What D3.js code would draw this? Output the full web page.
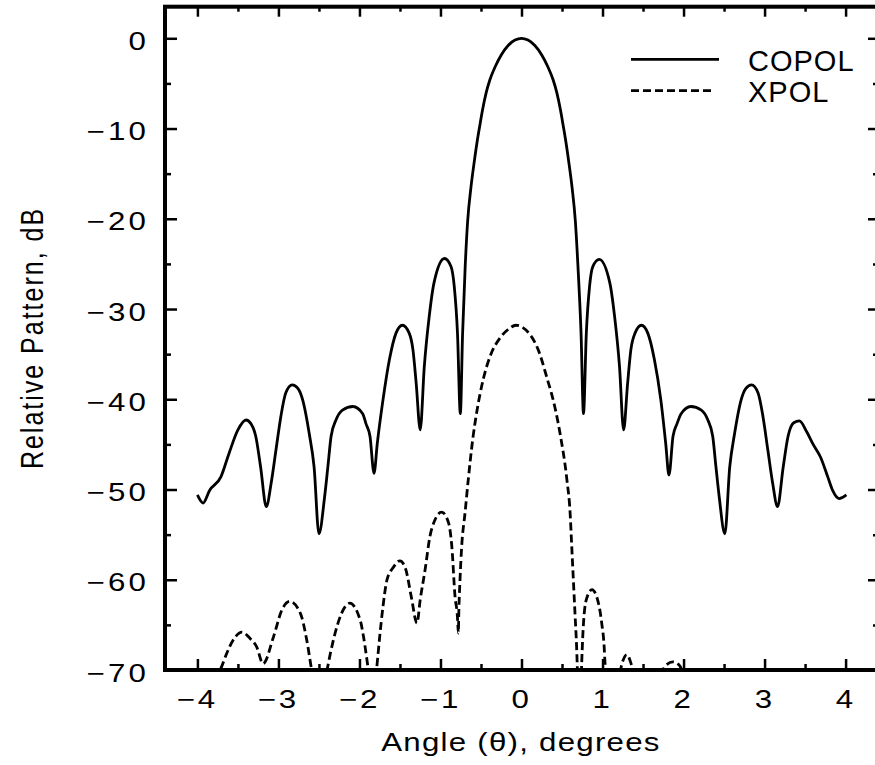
<!DOCTYPE html>
<html>
<head>
<meta charset="utf-8">
<script src="https://cdn.jsdelivr.net/npm/d3@7"></script>
<style>
  body { margin: 0; background: #fff; }
  text { font-family: "Liberation Sans", Arial, sans-serif; fill: #000; }
</style>
</head>
<body>
<script>
// copolar pattern, angle in degrees and level in dB
const copolAngle = [-4.00, -3.93, -3.85, -3.71, -3.61, -3.50, -3.40, -3.34, -3.28, -3.22, -3.15,
  -3.09, -3.03, -2.97, -2.91, -2.83, -2.76, -2.70, -2.62, -2.56, -2.50,
  -2.43, -2.39, -2.35, -2.29, -2.21, -2.08, -1.96, -1.92, -1.87, -1.82,
  -1.78, -1.71, -1.63, -1.55, -1.47, -1.385, -1.34, -1.30, -1.25,
  -1.20, -1.14, -1.08, -0.95, -0.87, -0.83, -0.79, -0.755,
  -0.727, -0.695, -0.665, -0.625, -0.585, -0.55, -0.515, -0.48, -0.435, -0.39,
  -0.325, -0.25, -0.165, -0.08, 0,
  0.08, 0.165, 0.25, 0.325, 0.39, 0.435, 0.48, 0.515, 0.55, 0.585, 0.625,
  0.665, 0.697, 0.735, 0.765,
  0.80, 0.84, 0.88, 0.96, 1.09, 1.15, 1.21, 1.26,
  1.31, 1.35, 1.40, 1.48, 1.56, 1.64, 1.72, 1.78, 1.82,
  1.87, 1.92, 1.97, 2.09, 2.22, 2.30, 2.36, 2.40, 2.44, 2.51,
  2.57, 2.63, 2.71, 2.77, 2.84, 2.92, 2.98, 3.04, 3.10, 3.16,
  3.23, 3.29, 3.36, 3.43, 3.52, 3.60, 3.69, 3.78, 3.84, 3.92, 4.01];
const copolDb = [-50.6, -51.5, -50.1, -48.6, -46.0, -43.4, -42.3, -42.7, -44.1, -47.5, -51.9,
  -49.3, -45.6, -41.9, -39.3, -38.4, -38.8, -40.1, -43.8, -47.5, -54.9,
  -50.8, -47.5, -44.1, -42.3, -41.2, -40.8, -41.6, -42.7, -44.1, -48.2,
  -44.9, -40.1, -35.6, -32.7, -31.8, -32.7, -34.5, -38.2, -43.4,
  -36.4, -30.9, -27.1, -24.4, -25.3, -27.5, -32.7, -41.6,
  -32.7, -25.3, -20.3, -16.6, -13.8, -11.6, -9.7, -7.9, -6.0, -4.6,
  -3.15, -1.85, -0.8, -0.2, 0,
  -0.2, -0.8, -1.85, -3.15, -4.6, -6.0, -7.9, -9.7, -11.6, -13.8, -16.6,
  -20.3, -25.3, -32.7, -41.6,
  -32.7, -27.5, -25.3, -24.5, -27.1, -30.9, -36.4, -43.4,
  -38.2, -34.5, -32.7, -31.8, -32.7, -35.6, -40.1, -44.9, -48.4,
  -44.1, -42.7, -41.6, -40.8, -41.2, -42.3, -44.1, -47.5, -50.8, -54.9,
  -47.5, -43.8, -40.1, -38.8, -38.4, -39.3, -41.9, -45.6, -49.3, -51.9,
  -47.5, -44.1, -42.6, -42.4, -43.6, -45.0, -46.4, -48.6, -50.1, -51.0, -50.6];

// cross-polar pattern (values under -70 dB are cut off by the frame)
const xpolAngle = [-4.00, -3.85, -3.70, -3.64, -3.56, -3.45, -3.35, -3.27, -3.19,
  -3.06, -2.96, -2.86, -2.73, -2.65, -2.59, -2.50,
  -2.40, -2.36, -2.30, -2.22, -2.12, -1.99, -1.95, -1.89, -1.84,
  -1.79, -1.75, -1.71, -1.66, -1.58, -1.50, -1.43, -1.36, -1.29,
  -1.25, -1.19, -1.13, -1.07, -0.985, -0.90, -0.86, -0.82, -0.79, -0.78,
  -0.772, -0.759, -0.738, -0.697, -0.657, -0.60, -0.55, -0.47, -0.39, -0.265, -0.17, -0.068,
  0.084, 0.21, 0.31, 0.41, 0.48, 0.56, 0.60, 0.62, 0.64, 0.66, 0.68, 0.69, 0.715,
  0.74, 0.76, 0.80, 0.87, 0.95, 0.99, 1.02, 1.03, 1.12,
  1.24, 1.30, 1.36, 1.55, 1.77, 1.87, 1.94, 2.2, 2.8, 3.4, 4.0];
const xpolDb = [-76, -72.5, -69.6, -68.2, -66.7, -65.8, -66.5, -67.4, -69.3,
  -66.3, -63.4, -62.4, -63.7, -66.7, -70, -74,
  -70, -68.2, -65.9, -63.7, -62.6, -64.5, -66.3, -70, -73,
  -70, -66.3, -63, -60, -58.6, -57.9, -58.8, -61.9, -64.8,
  -62.2, -58.9, -55.2, -53.4, -52.5, -53.7, -56.3, -61.9, -64.2, -65.9,
  -63, -60, -56.3, -52.6, -48.9, -44.3, -41.3, -37.7, -35.3, -33.2, -32.3, -31.8,
  -32.6, -34.6, -37.5, -40.8, -44.0, -48.9, -52.6, -56.3, -60, -63.7, -67.4, -70, -78,
  -70, -65.6, -62.2, -61.1, -62.6, -64.8, -67.4, -69.1, -76,
  -69.3, -68.3, -69.5, -78, -69.6, -69.1, -69.4, -76, -80, -78, -82];

const xMajor = [-4, -3, -2, -1, 0, 1, 2, 3, 4];
const xMinor = [-3.5, -2.5, -1.5, -0.5, 0.5, 1.5, 2.5, 3.5];
const yMajor = [0, -10, -20, -30, -40, -50, -60, -70];
const yMinor = [-5, -15, -25, -35, -45, -55, -65];

const seriesNames = ["COPOL", "XPOL"];

const svg = d3.select("body")
  .append("svg")
  .attr("width", 875)
  .attr("height", 765);

const x = d3.scaleLinear().domain([-4.4, 4.4]).range([165, 878]);
const y = d3.scaleLinear().domain([-70, 3.5]).range([670, 6.7]);

const fmt = v => (v < 0 ? "\u2212" + Math.abs(v) : String(v));

// ticks, all pointing into the plot
function ticks(axis, vals, size, tr) {
  const g = svg.append("g")
    .attr("transform", tr)
    .call(axis.tickValues(vals).tickSize(-size).tickFormat(""));
  g.select(".domain").remove();
  g.selectAll("line").attr("stroke", "#000").attr("stroke-width", 2.5);
}
ticks(d3.axisBottom(x), xMajor, 11, "translate(0,670)");
ticks(d3.axisBottom(x), xMinor, 6, "translate(0,670)");
ticks(d3.axisTop(x), xMajor, 10, "translate(0,6.7)");
ticks(d3.axisTop(x), xMinor, 5, "translate(0,6.7)");
ticks(d3.axisLeft(y), yMajor, 12, "translate(165,0)");
ticks(d3.axisLeft(y), yMinor, 6, "translate(165,0)");
ticks(d3.axisRight(y), yMajor, 10, "translate(878,0)");
ticks(d3.axisRight(y), yMinor, 5, "translate(878,0)");

// frame
svg.append("rect")
  .attr("x", 165).attr("y", 6.7)
  .attr("width", 713).attr("height", 663.3)
  .attr("fill", "none")
  .attr("stroke", "#000")
  .attr("stroke-width", 4);

// tick labels
svg.selectAll(".xlab")
  .data(xMajor)
  .join("text")
  .attr("transform", d => `translate(${x(d)},708) scale(1.25,1)`)
  .attr("text-anchor", "middle")
  .attr("font-size", 25)
  .attr("letter-spacing", 2)
  .text(fmt);

svg.selectAll(".ylab")
  .data(yMajor)
  .join("text")
  .attr("transform", d => `translate(149,${y(d) + 11.7}) scale(1.25,1)`)
  .attr("text-anchor", "end")
  .attr("font-size", 25)
  .attr("letter-spacing", 2.5)
  .text(fmt);

// axis titles
svg.append("text")
  .attr("transform", "translate(521,751) scale(1.25,1)")
  .attr("text-anchor", "middle")
  .attr("font-size", 25)
  .attr("letter-spacing", 1)
  .text("Angle (\u03b8), degrees");

svg.append("text")
  .attr("transform", "translate(43,338) rotate(-90) scale(1,1.25)")
  .attr("text-anchor", "middle")
  .attr("font-size", 25)
  .attr("letter-spacing", 2)
  .text("Relative Pattern, dB");

// curves
svg.append("clipPath").attr("id", "plot")
  .append("rect")
  .attr("x", 165).attr("y", 6.7)
  .attr("width", 713).attr("height", 663.3);

const line = d3.line()
  .x(d => x(d[0]))
  .y(d => y(d[1]))
  .curve(d3.curveMonotoneX);

svg.append("path")
  .datum(d3.zip(copolAngle, copolDb))
  .attr("clip-path", "url(#plot)")
  .attr("d", line)
  .attr("fill", "none")
  .attr("stroke", "#000")
  .attr("stroke-width", 2.8)
  .attr("stroke-linejoin", "round");

svg.append("path")
  .datum(d3.zip(xpolAngle, xpolDb))
  .attr("clip-path", "url(#plot)")
  .attr("d", line)
  .attr("fill", "none")
  .attr("stroke", "#000")
  .attr("stroke-width", 2.8)
  .attr("stroke-dasharray", "8,4");

// legend
const legend = svg.append("g");
legend.append("line")
  .attr("x1", 631).attr("x2", 719).attr("y1", 59.3).attr("y2", 59.3)
  .attr("stroke", "#000").attr("stroke-width", 2.8);
legend.append("line")
  .attr("x1", 631).attr("x2", 715).attr("y1", 90.7).attr("y2", 90.7)
  .attr("stroke", "#000").attr("stroke-width", 2.8)
  .attr("stroke-dasharray", "8,4");
legend.selectAll("text")
  .data(seriesNames)
  .join("text")
  .attr("x", 748)
  .attr("y", (d, i) => 71 + i * 30.7)
  .attr("font-size", 29)
  .attr("letter-spacing", 1)
  .text(d => d);
</script>
</body>
</html>
